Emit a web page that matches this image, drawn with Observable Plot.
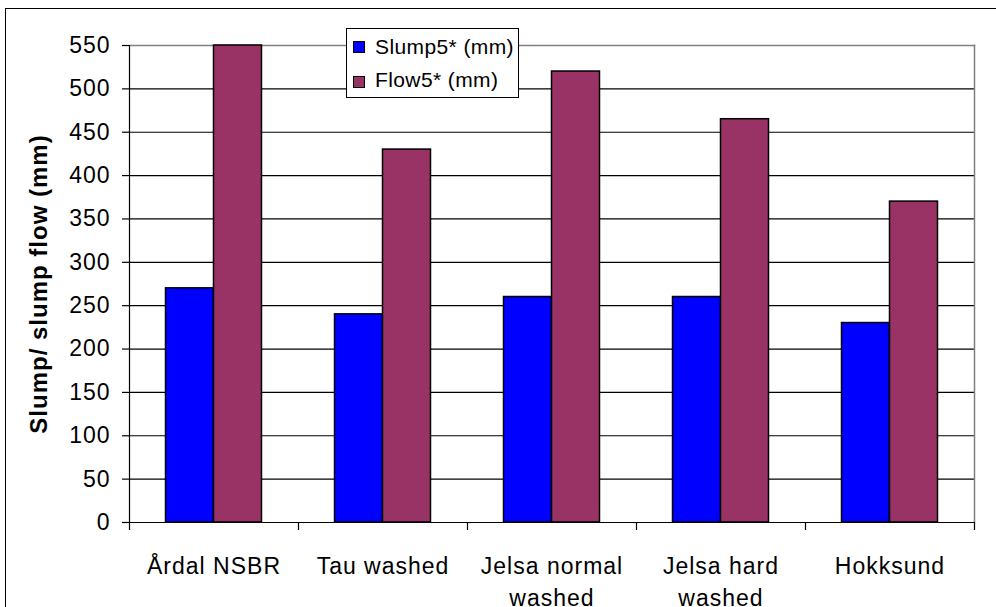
<!DOCTYPE html>
<html><head><meta charset="utf-8">
<script src="https://cdn.jsdelivr.net/npm/d3@7"></script>
<script src="https://cdn.jsdelivr.net/npm/@observablehq/plot@0.6"></script>
<style>
html,body{margin:0;padding:0;background:#fff;overflow:hidden}
#wrap{position:relative;width:996px;height:607px;overflow:hidden;font-family:Arial,"Liberation Sans",sans-serif}
#border{position:absolute;left:5px;top:8px;width:1100px;height:700px;border:1.5px solid #000;box-sizing:border-box;pointer-events:none}
#chart{position:absolute;left:0;top:0}
#legend{position:absolute;left:346px;top:28px;width:173px;height:70px;border:1px solid #000;background:#fff;box-sizing:border-box}
#legend .sw{position:absolute;left:6px;width:12px;height:12px;border:1px solid #000;box-sizing:border-box}
#legend .lb{position:absolute;left:28px;font-size:21px;line-height:21px;letter-spacing:0.4px;white-space:nowrap;color:#000}
</style></head>
<body><div id="wrap"><div id="chart"></div><div id="border"></div><div id="legend"></div></div>
<script>
const categories = ["Årdal NSBR","Tau washed","Jelsa normal washed","Jelsa hard washed","Hokksund"];
const categoryLabels = ["Årdal NSBR","Tau washed","Jelsa normal\nwashed","Jelsa hard\nwashed","Hokksund"];
const seriesNames = ["Slump5* (mm)","Flow5* (mm)"];
const slump = [270,240,260,260,230];
const flow = [550,430,520,465,370];
const yTicks = [0,50,100,150,200,250,300,350,400,450,500,550];
const colors = ["#0000FF","#993366"];
const yTitle = "Slump/ slump flow (mm)";

const W = 996, H = 607, ML = 129, MR = 22, MT = 45, MB = 85;
const bw = (W - ML - MR) / categories.length;
const barW = bw * 0.284;
const side = (bw - 2*barW) / 2;

const slumpData = categories.map((c,i)=>({cat:c, v:slump[i]}));
const flowData = categories.map((c,i)=>({cat:c, v:flow[i]}));
const font = "Arial, 'Liberation Sans', sans-serif";

const chart = Plot.plot({
  width: W, height: H,
  marginLeft: ML, marginRight: MR, marginTop: MT, marginBottom: MB,
  style: {fontFamily: font, fontSize: "23px", color: "#000", background: "transparent", letterSpacing: "1px"},
  x: {type: "band", domain: categories, padding: 0, axis: null},
  y: {domain: [0, 550], axis: null},
  marks: [
    Plot.gridY(yTicks, {stroke: "#000", strokeOpacity: 1, strokeWidth: 1.2}),
    Plot.frame({anchor: "top", stroke: "#808080", strokeWidth: 1.5}),
    Plot.frame({anchor: "right", stroke: "#808080", strokeWidth: 1.5}),
    Plot.barY(slumpData, {x: "cat", y: "v", fill: colors[0], stroke: "#000", strokeWidth: 1.5, insetLeft: side, insetRight: bw - side - barW}),
    Plot.barY(flowData, {x: "cat", y: "v", fill: colors[1], stroke: "#000", strokeWidth: 1.5, insetLeft: side + barW, insetRight: side}),
    Plot.frame({anchor: "left", stroke: "#000", strokeWidth: 1.2}),
    Plot.ruleY([0], {stroke: "#000", strokeWidth: 1.2}),
    Plot.axisY(yTicks, {tickSize: 7, tickPadding: 12, fontSize: 23, stroke: "#000", strokeWidth: 1.2, label: null}),
    Plot.axisX({tickSize: 8, text: null, dx: -bw/2, stroke: "#000", strokeWidth: 1.2, label: null}),
    Plot.axisX([categories[categories.length-1]], {tickSize: 8, text: null, dx: bw/2, stroke: "#000", strokeWidth: 1.2, label: null}),
    Plot.text(categories, {x: d => d, text: (d,i) => categoryLabels[i], frameAnchor: "bottom", lineAnchor: "top", dy: 28, lineHeight: 1.42, fontSize: 23, fill: "#000"}),
    Plot.text([yTitle], {frameAnchor: "left", textAnchor: "middle", rotate: -90, dx: -90, fontSize: 24, fontWeight: "bold", fill: "#000", ariaLabel: "y title"})
  ]
});
d3.select(chart).selectAll("g[aria-label='y title'] text").style("letter-spacing", "1.1px");
document.getElementById("chart").appendChild(chart);

const legend = document.getElementById("legend");
const tops = [[12, 7], [47, 40]];
seriesNames.forEach((s,i)=>{
  const sw = document.createElement("div");
  sw.className = "sw"; sw.style.top = tops[i][0] + "px"; sw.style.background = colors[i];
  const lb = document.createElement("div");
  lb.className = "lb"; lb.style.top = tops[i][1] + "px"; lb.textContent = s;
  legend.appendChild(sw); legend.appendChild(lb);
});
</script></body></html>
